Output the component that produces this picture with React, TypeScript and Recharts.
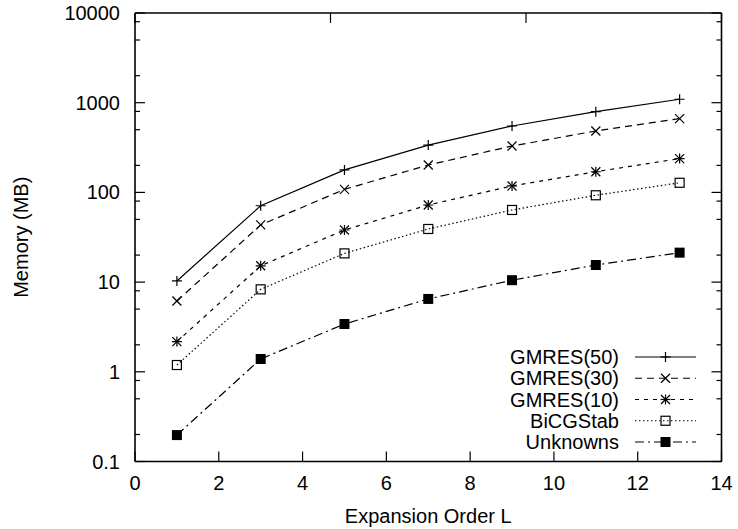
import React from 'react';
import { LineChart, Line, XAxis, YAxis, Legend, Label } from 'recharts';

const orders = [1, 3, 5, 7, 9, 11, 13];
const gmres50 = [10.3, 71, 178, 337, 550, 794, 1092];
const gmres30 = [6.15, 43.4, 108, 202, 329, 484, 664];
const gmres10 = [2.17, 15.2, 38.1, 72.4, 118, 170, 238];
const bicgstab = [1.19, 8.3, 20.9, 39.1, 63.7, 92.9, 128];
const unknowns = [0.197, 1.39, 3.41, 6.49, 10.5, 15.5, 21.3];

const xTicks = [0, 2, 4, 6, 8, 10, 12, 14];
const yMajorTicks = [0.1, 1, 10, 100, 1000, 10000];
const yMinorFactors = [2, 5, 8];

const seriesKeys = ['g50', 'g30', 'g10', 'bicg', 'unk'];
const seriesNames = ['GMRES(50)', 'GMRES(30)', 'GMRES(10)', 'BiCGStab', 'Unknowns'];
const seriesValues = [gmres50, gmres30, gmres10, bicgstab, unknowns];
const seriesDash = ['', '7 5', '4 5', '1.5 2.5', '9 4 2 4'];
const seriesShape = ['plus', 'cross', 'star', 'box', 'fbox'];

const data = orders.map((L, i) => {
  const row: any = { L };
  seriesKeys.forEach((k, s) => { row[k] = seriesValues[s][i]; });
  return row;
});

const yAllTicks: number[] = [];
yMajorTicks.forEach((d, i) => {
  yAllTicks.push(d);
  if (i < yMajorTicks.length - 1) yMinorFactors.forEach((f) => yAllTicks.push(d * f));
});
const majorSet = new Set(yMajorTicks);

const FONT = 'Liberation Sans, Arial, Helvetica, sans-serif';
const FS = 20;
const SW = 1.2;

function marker(shape: string, cx: number, cy: number, key?: any) {
  const s = 5;
  const c = 4.5;
  switch (shape) {
    case 'plus':
      return (
        <g key={key}>
          <line x1={cx - s} y1={cy} x2={cx + s} y2={cy} stroke="#000" strokeWidth={SW} />
          <line x1={cx} y1={cy - s} x2={cx} y2={cy + s} stroke="#000" strokeWidth={SW} />
        </g>
      );
    case 'cross':
      return (
        <g key={key}>
          <line x1={cx - c} y1={cy - c} x2={cx + c} y2={cy + c} stroke="#000" strokeWidth={SW} />
          <line x1={cx - c} y1={cy + c} x2={cx + c} y2={cy - c} stroke="#000" strokeWidth={SW} />
        </g>
      );
    case 'star':
      return (
        <g key={key}>
          <line x1={cx - s} y1={cy} x2={cx + s} y2={cy} stroke="#000" strokeWidth={SW} />
          <line x1={cx} y1={cy - s} x2={cx} y2={cy + s} stroke="#000" strokeWidth={SW} />
          <line x1={cx - c} y1={cy - c} x2={cx + c} y2={cy + c} stroke="#000" strokeWidth={SW} />
          <line x1={cx - c} y1={cy + c} x2={cx + c} y2={cy - c} stroke="#000" strokeWidth={SW} />
        </g>
      );
    case 'box':
      return (
        <rect key={key} x={cx - 4.5} y={cy - 4.5} width={9} height={9} fill="none" stroke="#000" strokeWidth={SW} />
      );
    default:
      return <rect key={key} x={cx - 5} y={cy - 5} width={10} height={10} fill="#000" stroke="none" />;
  }
}

const makeDot = (shape: string) => (props: any) => {
  const { cx, cy, index } = props;
  if (cx == null || cy == null) return <g key={index} />;
  return marker(shape, cx, cy, index);
};

const LeftTick = (props: any) => {
  const { x, y, payload } = props;
  const v = payload.value;
  const major = majorSet.has(v);
  return (
    <g>
      <line x1={x} y1={y} x2={x + (major ? 10 : 5)} y2={y} stroke="#000" strokeWidth={SW} />
      {major && (
        <text x={x - 15} y={y} dy="0.35em" textAnchor="end" fontFamily={FONT} fontSize={FS} fill="#000">
          {String(v)}
        </text>
      )}
    </g>
  );
};

const RightTick = (props: any) => {
  const { x, y, payload } = props;
  const major = majorSet.has(payload.value);
  return <line x1={x} y1={y} x2={x - (major ? 10 : 5)} y2={y} stroke="#000" strokeWidth={SW} />;
};

const BottomTick = (props: any) => {
  const { x, y, payload } = props;
  return (
    <g>
      <line x1={x} y1={y} x2={x} y2={y - 10} stroke="#000" strokeWidth={SW} />
      <text x={x} y={y + 28.5} textAnchor="middle" fontFamily={FONT} fontSize={FS} fill="#000">
        {String(payload.value)}
      </text>
    </g>
  );
};

const TopTick = (props: any) => {
  const { x, y } = props;
  return <line x1={x} y1={y} x2={x} y2={y + 10} stroke="#000" strokeWidth={SW} />;
};

const XTitle = (props: any) => {
  const vb = props.viewBox || {};
  return (
    <text x={vb.x + vb.width / 2} y={vb.y + 61.5} textAnchor="middle" fontFamily={FONT} fontSize={FS} fill="#000">
      Expansion Order L
    </text>
  );
};

const YTitle = (props: any) => {
  const vb = props.viewBox || {};
  const x = vb.x + vb.width - 107.5;
  const y = vb.y + vb.height / 2;
  return (
    <text x={x} y={y} transform={`rotate(-90 ${x} ${y})`} textAnchor="middle" fontFamily={FONT} fontSize={FS} fill="#000">
      Memory (MB)
    </text>
  );
};

const renderLegend = () => (
  <svg width={270} height={110} style={{ display: 'block' }}>
    {seriesNames.map((name, i) => {
      const cy = 12 + i * 21.25;
      return (
        <g key={name}>
          <text x={169} y={cy} dy="0.35em" textAnchor="end" fontFamily={FONT} fontSize={FS} fill="#000">
            {name}
          </text>
          <line x1={185} y1={cy} x2={246} y2={cy} stroke="#000" strokeWidth={SW} strokeDasharray={seriesDash[i] || undefined} />
          {marker(seriesShape[i], 215.5, cy)}
        </g>
      );
    })}
  </svg>
);

export default function App() {
  return (
    <div style={{ position: 'absolute', left: 0, top: 0, width: 738, height: 529, background: '#fff' }}>
      <LineChart width={738} height={529} data={data} margin={{ top: 8, right: 11.5, bottom: 17.5, left: 55 }}>
        <XAxis
          dataKey="L"
          type="number"
          domain={[0, 14]}
          ticks={xTicks}
          interval={0}
          tickSize={0}
          tickMargin={0}
          height={50}
          axisLine={{ stroke: '#000', strokeWidth: 1.6 }}
          tickLine={false}
          tick={<BottomTick />}
        >
          <Label content={<XTitle />} />
        </XAxis>
        <XAxis
          xAxisId="top"
          orientation="top"
          type="number"
          domain={[0, 14]}
          ticks={xTicks}
          interval={0}
          tickSize={0}
          tickMargin={0}
          height={5}
          axisLine={{ stroke: '#000', strokeWidth: 1.6 }}
          tickLine={false}
          tick={<TopTick />}
        />
        <YAxis
          scale="log"
          domain={[0.1, 10000]}
          allowDataOverflow
          ticks={yAllTicks}
          interval={0}
          tickSize={0}
          tickMargin={0}
          width={80}
          axisLine={{ stroke: '#000', strokeWidth: 1.6 }}
          tickLine={false}
          tick={<LeftTick />}
        >
          <Label content={<YTitle />} />
        </YAxis>
        <YAxis
          yAxisId="right"
          orientation="right"
          scale="log"
          domain={[0.1, 10000]}
          allowDataOverflow
          ticks={yAllTicks}
          interval={0}
          tickSize={0}
          tickMargin={0}
          width={5}
          axisLine={{ stroke: '#000', strokeWidth: 1.6 }}
          tickLine={false}
          tick={<RightTick />}
        />
        <Legend
          layout="horizontal"
          verticalAlign="middle"
          align="center"
          content={renderLegend}
          wrapperStyle={{ position: 'absolute', left: 450, top: 345, width: 270, height: 110 }}
        />
        {seriesKeys.map((k, i) => (
          <Line
            key={k}
            dataKey={k}
            name={seriesNames[i]}
            type="linear"
            stroke="#000"
            strokeWidth={SW}
            strokeDasharray={seriesDash[i] || undefined}
            dot={makeDot(seriesShape[i])}
            activeDot={false}
            isAnimationActive={false}
          />
        ))}
      </LineChart>
    </div>
  );
}
